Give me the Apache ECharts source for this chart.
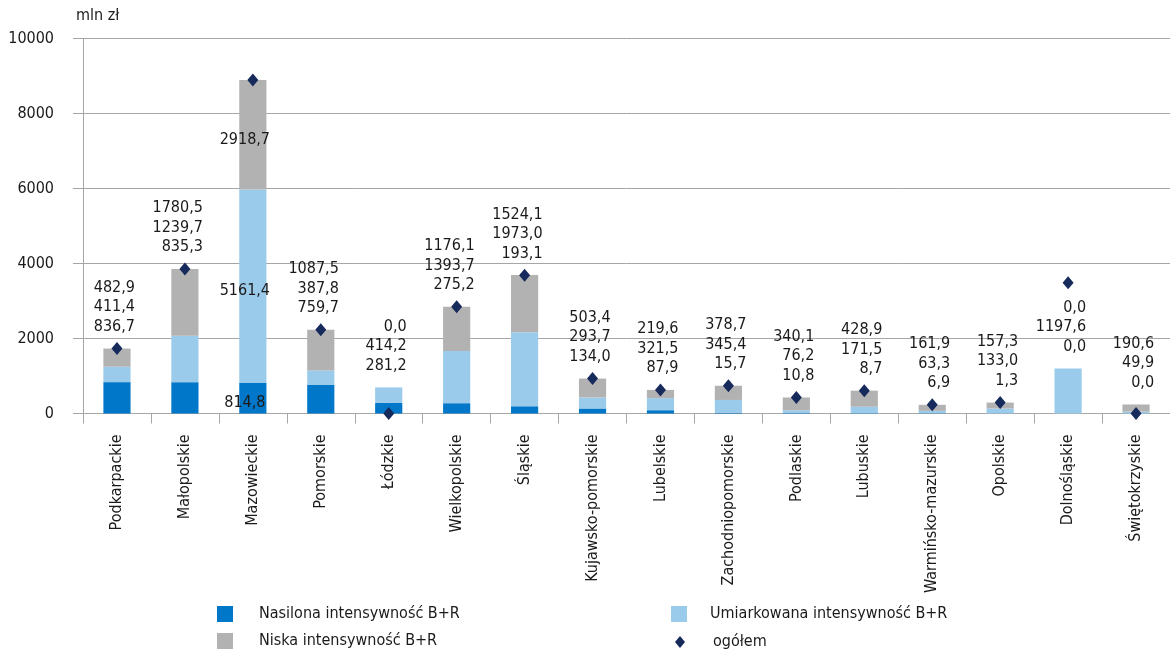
<!DOCTYPE html>
<html>
<head>
<meta charset="utf-8">
<script src="https://cdn.jsdelivr.net/npm/echarts@6/dist/echarts.min.js"></script>
<style>html,body{margin:0;padding:0;background:#fff}#c{width:1170px;height:653px}</style>
</head>
<body>
<div id="c"></div>
<script>
const categories = ['Podkarpackie','Małopolskie','Mazowieckie','Pomorskie','Łódzkie','Wielkopolskie','Śląskie','Kujawsko-pomorskie','Lubelskie','Zachodniopomorskie','Podlaskie','Lubuskie','Warmińsko-mazurskie','Opolskie','Dolnośląskie','Świętokrzyskie'];
const nasilona = [836.7, 835.3, 814.8, 759.7, 281.2, 275.2, 193.1, 134.0, 87.9, 15.7, 10.8, 8.7, 6.9, 1.3, 0.0, 0.0];
const umiarkowana = [411.4, 1239.7, 5161.4, 387.8, 414.2, 1393.7, 1973.0, 293.7, 321.5, 345.4, 76.2, 171.5, 63.3, 133.0, 1197.6, 49.9];
const niska = [482.9, 1780.5, 2918.7, 1087.5, 0.0, 1176.1, 1524.1, 503.4, 219.6, 378.7, 340.1, 428.9, 161.9, 157.3, 0.0, 190.6];
const ogolem = [1731, 3855, 8895, 2235, 0, 2845, 3690, 931, 625, 740, 427, 605, 232, 292, 3490, 0];
const yTicks = {min: 0, max: 10000, interval: 2000};

const FONT = "'Liberation Sans Narrow', 'DejaVu Sans Condensed', 'Roboto Condensed', Roboto, sans-serif";
const TXT = '#1a1a1a';
const fmt = v => v.toFixed(1).replace('.', ',');
const insideIdx = 2;
const insideLabel = (v) => ({value: v, label: {show: true, position: 'inside', align: 'center', offset: [-8, 5], formatter: fmt(v)}});

const legendItem = (name, left, top, icon, w, h, pad) => ({
  left: left, top: top, padding: 0, orient: 'horizontal', itemWidth: w, itemHeight: h, icon: icon,
  data: [name],
  formatter: n => '{a|' + n + '}',
  textStyle: {fontFamily: FONT, fontSize: 16, color: TXT, rich: {a: {fontFamily: FONT, fontSize: 16, color: TXT, padding: [0, 0, 0, pad]}}}
});

const chart = echarts.init(document.getElementById('c'), null, {renderer: 'canvas'});
const labelStyle = {fontFamily: FONT, fontSize: 16, color: TXT, lineHeight: 19.5};
chart.setOption({
  animation: false,
  textStyle: {fontFamily: FONT, fontSize: 16, color: TXT},
  title: {text: 'mln zł', left: 76, top: 8, padding: 0, textStyle: {fontFamily: FONT, fontSize: 16, fontWeight: 'normal', color: TXT}},
  grid: {left: 83, right: -7, top: 38.5, bottom: 239.5, containLabel: false},
  legend: [
    legendItem('Nasilona intensywność B+R', 217, 606, 'rect', 16, 16, 21),
    legendItem('Niska intensywność B+R', 217, 633, 'rect', 16, 16, 21),
    legendItem('Umiarkowana intensywność B+R', 671, 606, 'rect', 16, 16, 18),
    legendItem('ogółem', 675, 634, 'diamond', 10, 12, 23)
  ],
  xAxis: {
    type: 'category', data: categories,
    axisLine: {lineStyle: {color: '#a6a6a6', width: 1}},
    axisTick: {show: true, length: 10, interval: 0, lineStyle: {color: '#a6a6a6'}},
    axisLabel: {interval: 0, rotate: 90, margin: 21, fontFamily: FONT, fontSize: 16, color: TXT}
  },
  yAxis: {
    type: 'value', min: yTicks.min, max: yTicks.max, interval: yTicks.interval,
    axisLine: {show: true, lineStyle: {color: '#a6a6a6'}},
    axisTick: {show: true, length: 10, lineStyle: {color: '#a6a6a6'}},
    splitLine: {lineStyle: {color: '#a6a6a6', width: 1}},
    axisLabel: {margin: 29, fontFamily: FONT, fontSize: 16, color: TXT, formatter: v => String(v)}
  },
  series: [
    {name: 'Nasilona intensywność B+R', type: 'bar', stack: 's', barWidth: '40%',
     itemStyle: {color: '#0077c8'},
     data: nasilona.map((v, i) => i === insideIdx ? insideLabel(v) : v),
     label: {show: false, ...labelStyle}},
    {name: 'Umiarkowana intensywność B+R', type: 'bar', stack: 's',
     itemStyle: {color: '#9bcbea'},
     data: umiarkowana.map((v, i) => i === insideIdx ? insideLabel(v) : v),
     label: {show: false, ...labelStyle}},
    {name: 'Niska intensywność B+R', type: 'bar', stack: 's',
     itemStyle: {color: '#b2b2b2'},
     data: niska.map((v, i) => i === insideIdx ? insideLabel(v) : v),
     label: {show: true, position: 'top', distance: 12, align: 'right', offset: [18, 0], ...labelStyle,
       formatter: p => fmt(niska[p.dataIndex]) + '\n' + fmt(umiarkowana[p.dataIndex]) + '\n' + fmt(nasilona[p.dataIndex])}},
    {name: 'ogółem', type: 'scatter', symbol: 'diamond', symbolSize: [11, 13], z: 5,
     itemStyle: {color: '#172a5c', opacity: 1}, data: ogolem}
  ]
});
</script>
</body>
</html>
